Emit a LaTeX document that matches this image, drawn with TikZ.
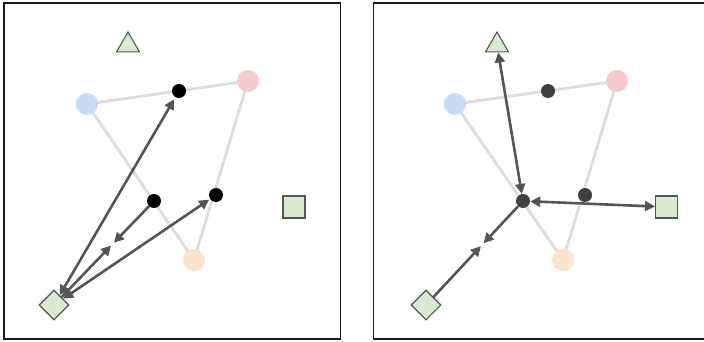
\documentclass[tikz,border=0pt]{standalone}
\usetikzlibrary{shapes.geometric,arrows.meta,calc}
\definecolor{cblue}{HTML}{C9DAF8}
\definecolor{cpink}{HTML}{F4CCCC}
\definecolor{corange}{HTML}{FCE5CD}
\definecolor{cgreen}{HTML}{D9EAD3}
\definecolor{cedge}{HTML}{DDDDDD}
\definecolor{carrow}{HTML}{555555}
\definecolor{cdark}{HTML}{404040}
\tikzset{
  frame/.style={draw=black!90, line width=1.4pt},
  bigdot/.style={circle, inner sep=0pt, minimum size=22pt},
  smalldot/.style={circle, inner sep=0pt, minimum size=14pt},
  edge/.style={draw=cedge, line width=2.8pt},
  green/.style={fill=cgreen, draw=carrow, line width=1.1pt, inner sep=0pt},
  tri/.style={green, regular polygon, regular polygon sides=3, minimum size=26.6pt},
  sq/.style={green, rectangle, minimum size=22pt},
  dia/.style={green, diamond, minimum width=30pt, minimum height=30pt},
  arr/.style={draw=carrow, line width=2.6pt, -{Triangle[length=10pt,width=10pt]}},
  darr/.style={draw=carrow, line width=2.6pt, {Triangle[length=10pt,width=10pt]}-{Triangle[length=10pt,width=10pt]}},
}
\begin{document}
\begin{tikzpicture}[x=1pt,y=-1pt]
\useasboundingbox (0,0) rectangle (704,342);
\clip (0,0) rectangle (704,342);
\fill[white] (0,0) rectangle (704,342);
% ---------- left panel ----------
\draw[frame] (4,3) rectangle (340.5,339);
\coordinate (lbc) at (87,104);
\coordinate (lpc) at (248,81);
\coordinate (loc) at (194,260);
\path[edge] (lbc) -- (lpc);
\path[edge] (lbc) -- (loc);
\path[edge] (lpc) -- (loc);
\node[bigdot, fill=cblue] (lb) at (lbc) {};
\node[bigdot, fill=cpink] (lp) at (lpc) {};
\node[bigdot, fill=corange] (lo) at (loc) {};
\node[smalldot, fill=black] (ld1) at (179,91) {};
\node[smalldot, fill=black] (ld2) at (154,201) {};
\node[smalldot, fill=black] (ld3) at (216,195) {};
\node[tri] (lt) at (128,45.3) {};
\node[sq] (ls) at (294,207) {};
\node[dia] (ldm) at (54,305) {};
\coordinate (lm) at ($(ldm)!0.585!(ld2)$);
\path[darr, shorten >=2.5pt] (ldm) -- (ld1);
\path[darr, shorten >=1pt] (ldm) -- (ld3);
\path[arr, shorten >=2pt] (ld2) -- (lm);
\path[arr, shorten >=2pt] (ldm) -- (lm);
% ---------- right panel ----------
\draw[frame] (373.3,3) rectangle (712,339);
\coordinate (rbc) at (455,104);
\coordinate (rpc) at (617,81);
\coordinate (roc) at (563,260);
\path[edge] (rbc) -- (rpc);
\path[edge] (rbc) -- (roc);
\path[edge] (rpc) -- (roc);
\node[bigdot, fill=cblue] (rb) at (rbc) {};
\node[bigdot, fill=cpink] (rp) at (rpc) {};
\node[bigdot, fill=corange] (ro) at (roc) {};
\node[smalldot, fill=cdark] (rd1) at (548,91) {};
\node[smalldot, fill=cdark] (rd2) at (523,201) {};
\node[smalldot, fill=cdark] (rd3) at (585,195) {};
\node[tri] (rt) at (497,45.3) {};
\node[sq] (rs) at (666.5,207) {};
\node[dia] (rdm) at (426,305) {};
\coordinate (rm) at ($(rdm)!0.58!(rd2)$);
\path[darr] (rd2) -- (rt);
\path[darr] (rd2) -- (rs);
\path[arr, shorten >=2pt] (rd2) -- (rm);
\path[arr, shorten >=2pt] (rdm) -- (rm);
\end{tikzpicture}
\end{document}
